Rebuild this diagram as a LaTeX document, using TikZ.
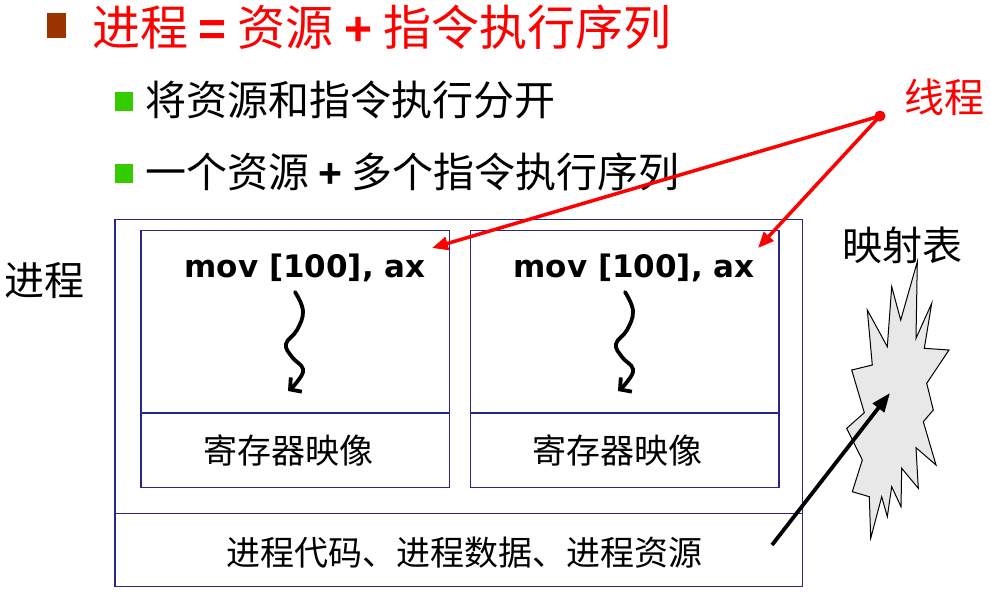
\documentclass[tikz,border=0pt]{standalone}
\usepackage{fontspec}
\setmainfont{Liberation Sans}
\newfontfamily\cjk{Noto Sans CJK SC}
\newfontfamily\vbold{DejaVu Sans}
\usetikzlibrary{arrows.meta}
\newcommand{\plainbold}[1]{{\normalfont\bfseries #1}}
\definecolor{boxblue}{RGB}{40,40,130}
\definecolor{titlered}{RGB}{255,0,0}
\definecolor{bulletbrown}{RGB}{153,51,0}
\definecolor{bulletgreen}{RGB}{51,204,0}
\definecolor{burstgray}{RGB}{232,232,232}
\tikzset{
  panel/.style={draw=boxblue, line width=1.8pt},
  cjktext/.style={inner sep=0pt, font=\cjk\fontsize{#1}{#1}\selectfont},
  codetext/.style={inner sep=0pt, font=\vbold\bfseries\fontsize{31}{31}\selectfont},
  threadarrow/.style={draw=titlered, line width=3.5pt, -{Triangle[length=16pt,width=13pt]}},
  wavearrow/.style={line width=3.8pt, line cap=round, -{Straight Barb[length=8pt,width=18pt,line width=3.8pt]}},
  maparrow/.style={line width=3.8pt, -{Triangle[length=19pt,width=14pt]}}
}
\begin{document}
\begin{tikzpicture}[x=1pt,y=-1pt]
\useasboundingbox (0,0) rectangle (990,606);
\fill[white] (0,0) rectangle (990,606);

% heading and bullet points
\fill[bulletbrown] (47,13) rectangle (66,38);
\node[cjktext=48, anchor=west, text=titlered] (title) at (92,27)
  {进程 \plainbold{=} 资源 \plainbold{+} 指令执行序列};
\fill[bulletgreen] (115,92) rectangle (133,111);
\node[cjktext=41, anchor=west] (point1) at (145,100) {将资源和指令执行分开};
\fill[bulletgreen] (115,164) rectangle (133,183);
\node[cjktext=41, anchor=west] (point2) at (145,172) {一个资源 \plainbold{+} 多个指令执行序列};

% process container
\draw[panel] (115,219.5) rectangle (802.5,586.5);
\draw[panel] (115,513.5) -- (802.5,513.5);
\node[cjktext=34] (res) at (464,553) {进程代码、进程数据、进程资源};
\node[cjktext=40] (proc) at (45,281) {进程};

% two threads
\draw[panel] (141,230.5) rectangle (449.5,487.5);
\draw[panel] (141,413) -- (449.5,413);
\draw[panel] (470.5,230.5) rectangle (779,487.5);
\draw[panel] (470.5,413) -- (779,413);
\node[codetext] (mov1) at (305,268) {mov [100], ax};
\node[codetext] (mov2) at (634,268) {mov [100], ax};
\node[cjktext=34] (reg1) at (288,451) {寄存器映像};
\node[cjktext=34] (reg2) at (617,451) {寄存器映像};

% execution flow inside each thread
\foreach \dx in {0,330}{
  \draw[wavearrow, shift={(\dx,0)}] plot[smooth, tension=0.7] coordinates
    {(295,292) (303,311) (297,330) (286,344) (292,357) (303,369) (297,382) (288,391)};
}

% thread label with its pointers
\node[cjktext=40, text=titlered] (thr) at (944,97) {线程};
\fill[titlered] (880,116) circle (5.5);
\coordinate (hub) at (880,116);
\coordinate (tip1) at (432,248);
\coordinate (tip2) at (758,248);
\draw[threadarrow] (hub) -- (tip1);
\draw[threadarrow] (hub) -- (tip2);

% mapping table burst
\node[cjktext=40] (map) at (902,245) {映射表};
\draw[fill=burstgray, draw=black, line width=1pt, line join=miter]
  (917.3,261.7) -- (916,338.3) -- (931.7,303.3) -- (924.3,348.3) -- (949,350)
  -- (926.7,383.3) -- (933.3,410) -- (923.3,421.7) -- (936,465) -- (916,447.7)
  -- (918.3,488.3) -- (901.7,468.3) -- (901,506.7) -- (891.7,486.7) -- (887.3,516.7)
  -- (881.7,496.7) -- (870.7,538.3) -- (869.3,496.7) -- (852.3,491.7) -- (862.3,460)
  -- (846.7,428.3) -- (864.3,412.7) -- (851.7,370) -- (872.3,365) -- (867.3,310)
  -- (887.3,346.7) -- (891.7,286.7) -- (900.7,320) -- cycle;
\coordinate (mapfoot) at (772,545);
\coordinate (mapin) at (890,393);
\draw[maparrow] (mapfoot) -- (mapin);
\end{tikzpicture}
\end{document}
